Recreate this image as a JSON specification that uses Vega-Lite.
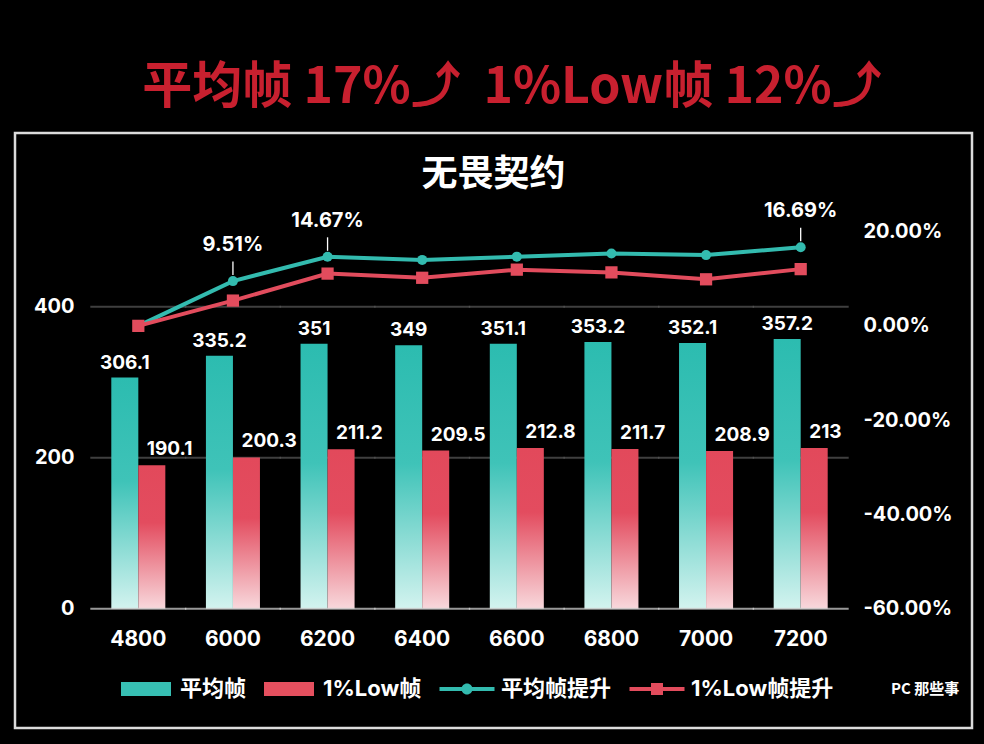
{
  "$schema": "https://vega.github.io/schema/vega-lite/v6.json",
  "width": 957,
  "height": 595,
  "autosize": {"type": "none"},
  "padding": {"left": 15, "top": 133, "right": 12, "bottom": 16},
  "background": "#000000",
  "config": {
    "view": {"stroke": "#dcdcdc", "strokeWidth": 2.5},
    "font": "Inter, Noto Sans CJK SC"
  },
  "title": {
    "text": "\u2800平均帧 17%⤴\u00a0 1%Low帧 12%⤴",
    "subtitle": "无畏契约",
    "anchor": "middle",
    "frame": "group",
    "offset": -60,
    "font": "Noto Sans CJK SC",
    "fontSize": 50,
    "fontWeight": "bold",
    "color": "#c8202f",
    "subtitleFont": "Noto Sans CJK SC",
    "subtitleFontSize": 36,
    "subtitleFontWeight": "bold",
    "subtitleColor": "#ffffff",
    "subtitlePadding": 45
  },
  "datasets": {
    "fps": [
      {"freq": "4800", "s": "平均帧", "fps": 306.1, "pct": 0},
      {"freq": "6000", "s": "平均帧", "fps": 335.2, "pct": 0.0951},
      {"freq": "6200", "s": "平均帧", "fps": 351, "pct": 0.1467},
      {"freq": "6400", "s": "平均帧", "fps": 349, "pct": 0.1401},
      {"freq": "6600", "s": "平均帧", "fps": 351.1, "pct": 0.147},
      {"freq": "6800", "s": "平均帧", "fps": 353.2, "pct": 0.1539},
      {"freq": "7000", "s": "平均帧", "fps": 352.1, "pct": 0.1503},
      {"freq": "7200", "s": "平均帧", "fps": 357.2, "pct": 0.1669},
      {"freq": "4800", "s": "1%Low帧", "fps": 190.1, "pct": 0},
      {"freq": "6000", "s": "1%Low帧", "fps": 200.3, "pct": 0.0537},
      {"freq": "6200", "s": "1%Low帧", "fps": 211.2, "pct": 0.111},
      {"freq": "6400", "s": "1%Low帧", "fps": 209.5, "pct": 0.1021},
      {"freq": "6600", "s": "1%Low帧", "fps": 212.8, "pct": 0.1194},
      {"freq": "6800", "s": "1%Low帧", "fps": 211.7, "pct": 0.1136},
      {"freq": "7000", "s": "1%Low帧", "fps": 208.9, "pct": 0.0989},
      {"freq": "7200", "s": "1%Low帧", "fps": 213, "pct": 0.1205}
    ]
  },
  "layer": [
    {
      "data": {"name": "fps"},
      "layer": [
        {
          "transform": [{"filter": "datum.s === '平均帧'"}],
          "mark": {"type": "tick", "size": 96, "thickness": 2, "color": "#5a5a5a"},
          "encoding": {
            "x": {
              "field": "freq", "type": "ordinal",
              "scale": {"range": [76, 833], "paddingInner": 0.429, "paddingOuter": 0.2145},
              "axis": {
                "title": null, "orient": "bottom", "offset": -100, "labelPadding": 0, "ticks": false, "tickSize": 0,
                "domain": false, "grid": false, "labelAngle": 0, "labelFontSize": 21, "labelFontWeight": "bold",
                "labelColor": "#ffffff", "labelFont": "Inter", "zindex": 2
              }
            },
            "y": {
              "datum": 400, "type": "quantitative",
              "scale": {"domain": [-158, 630.1], "nice": false},
              "axis": {
                "title": null, "values": [0, 200, 400], "offset": -59, "labelPadding": 0, "ticks": false, "tickSize": 0,
                "domain": false, "grid": false, "labelFontSize": 20, "labelFontWeight": "bold",
                "labelColor": "#ffffff", "labelFont": "Inter", "zindex": 2
              }
            }
          }
        },
        {
          "transform": [{"filter": "datum.s === '平均帧'"}],
          "mark": {"type": "tick", "size": 96, "thickness": 2, "color": "#5a5a5a"},
          "encoding": {
            "x": {"field": "freq", "type": "ordinal"},
            "y": {"datum": 200, "type": "quantitative"}
          }
        },
        {
          "transform": [{"filter": "datum.s === '平均帧'"}],
          "mark": {
            "type": "bar",
            "color": {
              "gradient": "linear", "x1": 0, "y1": 0, "x2": 0, "y2": 1,
              "stops": [
                {"offset": 0, "color": "#2cbcb0"},
                {"offset": 0.45, "color": "#3fc3b8"},
                {"offset": 1, "color": "#d3f3ef"}
              ]
            }
          },
          "encoding": {
            "x": {"field": "freq", "type": "ordinal"},
            "xOffset": {"field": "s", "scale": {"domain": ["平均帧", "1%Low帧"], "paddingInner": 0, "paddingOuter": 0}},
            "y": {"field": "fps", "type": "quantitative"},
            "y2": {"datum": 0}
          }
        },
        {
          "transform": [{"filter": "datum.s === '1%Low帧'"}],
          "mark": {
            "type": "bar",
            "color": {
              "gradient": "linear", "x1": 0, "y1": 0, "x2": 0, "y2": 1,
              "stops": [
                {"offset": 0, "color": "#e2495b"},
                {"offset": 0.4, "color": "#e34c5f"},
                {"offset": 1, "color": "#f8d8dc"}
              ]
            }
          },
          "encoding": {
            "x": {"field": "freq", "type": "ordinal"},
            "xOffset": {"field": "s"},
            "y": {"field": "fps", "type": "quantitative"},
            "y2": {"datum": 0}
          }
        },
        {
          "transform": [{"filter": "datum.s === '平均帧'"}],
          "mark": {"type": "tick", "size": 96, "thickness": 2, "color": "#d9d9d9"},
          "encoding": {
            "x": {"field": "freq", "type": "ordinal"},
            "y": {"datum": 0, "type": "quantitative"}
          }
        },
        {
          "transform": [{"filter": "datum.s === '平均帧'"}],
          "mark": {"type": "text", "dy": -9, "baseline": "alphabetic", "fontSize": 19, "fontWeight": "bold", "color": "#ffffff", "font": "Inter"},
          "encoding": {
            "x": {"field": "freq", "type": "ordinal"},
            "xOffset": {"field": "s"},
            "y": {"field": "fps", "type": "quantitative"},
            "text": {"field": "fps", "type": "nominal"}
          }
        },
        {
          "transform": [{"filter": "datum.s === '1%Low帧'"}],
          "mark": {"type": "text", "dy": -10, "dx": -5, "align": "left", "baseline": "alphabetic", "fontSize": 19, "fontWeight": "bold", "color": "#ffffff", "font": "Inter"},
          "encoding": {
            "x": {"field": "freq", "type": "ordinal"},
            "xOffset": {"field": "s"},
            "y": {"field": "fps", "type": "quantitative"},
            "text": {"field": "fps", "type": "nominal"}
          }
        }
      ]
    },
    {
      "data": {"name": "fps"},
      "layer": [
        {
          "transform": [{"filter": "datum.s === '平均帧'"}],
          "mark": {"type": "line", "color": "#33bbaf", "strokeWidth": 4, "point": {"filled": true, "size": 100, "shape": "circle", "color": "#33bbaf"}},
          "encoding": {
            "x": {"field": "freq", "type": "ordinal"},
            "y": {
              "field": "pct", "type": "quantitative",
              "scale": {"domain": [-0.8543, 0.4097], "nice": false},
              "axis": {
                "title": null, "orient": "right", "values": [-0.6, -0.4, -0.2, 0, 0.2], "format": ".2%",
                "labelExpr": "replace(datum.label, '\u2212', '-')",
                "offset": -109, "labelPadding": 0, "ticks": false, "tickSize": 0, "domain": false, "grid": false,
                "labelFontSize": 20, "labelFontWeight": "bold", "labelColor": "#ffffff", "labelFont": "Inter", "zindex": 2
              }
            }
          }
        },
        {
          "transform": [{"filter": "datum.s === '1%Low帧'"}],
          "mark": {"type": "line", "color": "#e24c5d", "strokeWidth": 4, "point": {"filled": true, "size": 150, "shape": "square", "color": "#e24c5d"}},
          "encoding": {
            "x": {"field": "freq", "type": "ordinal"},
            "y": {"field": "pct", "type": "quantitative"}
          }
        },
        {
          "transform": [
            {"filter": "datum.s === '平均帧'"},
            {"filter": {"field": "freq", "oneOf": ["6000", "6200", "7200"]}}
          ],
          "mark": {"type": "point", "shape": "M0,-0.6L0,-1.95", "size": 400, "filled": false, "stroke": "#ffffff", "strokeWidth": 1.3, "opacity": 1},
          "encoding": {
            "x": {"field": "freq", "type": "ordinal"},
            "y": {"field": "pct", "type": "quantitative"}
          }
        },
        {
          "transform": [
            {"filter": "datum.s === '平均帧'"},
            {"filter": {"field": "freq", "oneOf": ["6000", "6200", "7200"]}}
          ],
          "mark": {"type": "text", "dy": -30, "baseline": "alphabetic", "fontSize": 20, "fontWeight": "bold", "color": "#ffffff", "font": "Inter"},
          "encoding": {
            "x": {"field": "freq", "type": "ordinal"},
            "y": {"field": "pct", "type": "quantitative"},
            "text": {"field": "pct", "type": "quantitative", "format": ".2%"}
          }
        }
      ]
    },
    {
      "data": {"values": [{"k": "平均帧"}, {"k": "1%Low帧"}, {"k": "平均帧提升"}, {"k": "1%Low帧提升"}]},
      "mark": {"type": "point", "filled": true, "opacity": 0},
      "encoding": {
        "color": {
          "field": "k", "type": "nominal",
          "scale": {"domain": ["平均帧", "1%Low帧", "平均帧提升", "1%Low帧提升"], "range": ["#37bfb3", "#e5505f", "#33bbaf", "#e24c5d"]},
          "legend": {
            "orient": "none", "legendX": 120, "legendY": 545, "direction": "horizontal",
            "title": "PC 那些事", "titleOrient": "right", "titleFontSize": 15, "titleColor": "#ffffff", "titleFont": "Noto Sans CJK SC", "titleFontWeight": "bold", "titlePadding": 58,
            "symbolSize": 400, "symbolOpacity": 1, "symbolStrokeWidth": 0,
            "labelFontSize": 22, "labelFont": "Inter, Noto Sans CJK SC", "labelFontWeight": "bold", "labelColor": "#ffffff",
            "labelOffset": 23, "columnPadding": 17
          }
        },
        "shape": {
          "field": "k", "type": "nominal",
          "scale": {
            "domain": ["平均帧", "1%Low帧", "平均帧提升", "1%Low帧提升"],
            "range": [
              "M-2.5,-0.7H2.5V0.7H-2.5Z",
              "M-2.5,-0.7H2.5V0.7H-2.5Z",
              "M-2.75,-0.2H2.75V0.2H-2.75Z M-0.55,0A0.55,0.55 0 1,1 0.55,0A0.55,0.55 0 1,1 -0.55,0Z",
              "M-2.75,-0.2H2.75V0.2H-2.75Z M-0.6,-0.6H0.6V0.6H-0.6Z"
            ]
          },
          "legend": {
            "orient": "none", "legendX": 120, "legendY": 545, "direction": "horizontal",
            "title": "PC 那些事", "titleOrient": "right", "titleFontSize": 15, "titleColor": "#ffffff", "titleFont": "Noto Sans CJK SC", "titleFontWeight": "bold", "titlePadding": 58,
            "symbolSize": 400, "symbolOpacity": 1, "symbolStrokeWidth": 0,
            "labelFontSize": 22, "labelFont": "Inter, Noto Sans CJK SC", "labelFontWeight": "bold", "labelColor": "#ffffff",
            "labelOffset": 23, "columnPadding": 17
          }
        }
      }
    }
  ],
  "resolve": {"scale": {"y": "independent"}}
}
